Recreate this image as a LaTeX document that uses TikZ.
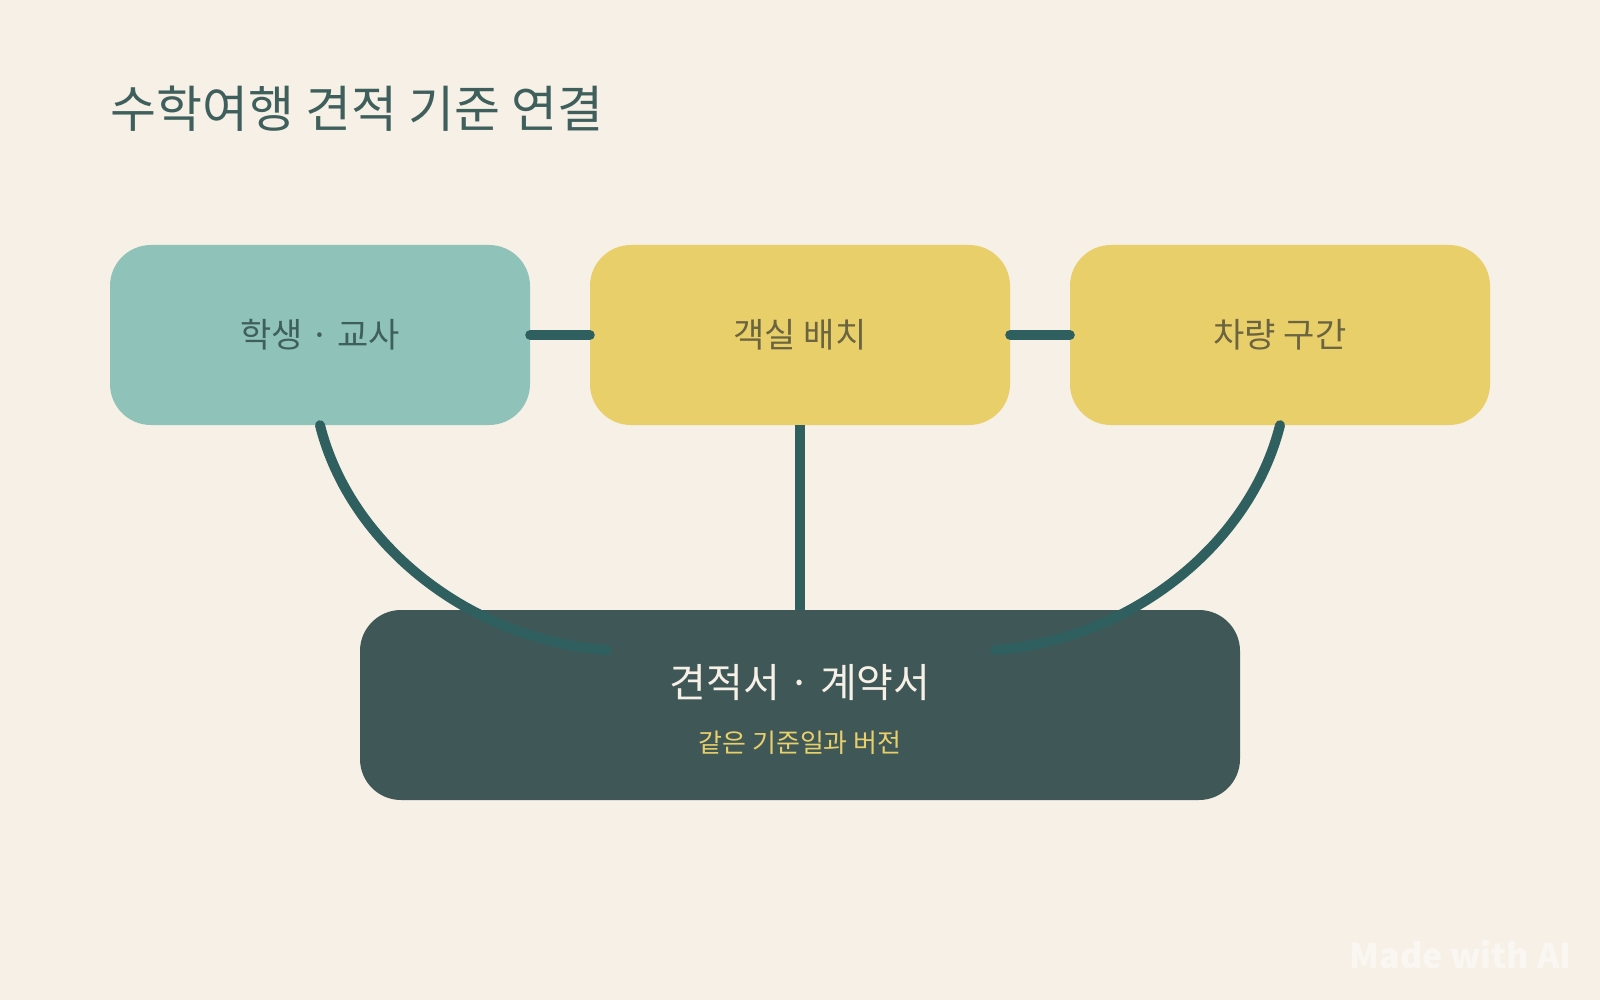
\documentclass[tikz,border=0pt]{standalone}
\usepackage{fontspec}
\setmainfont{Noto Sans CJK KR}
\usetikzlibrary{positioning}
\definecolor{bgcream}{HTML}{F6F0E6}
\definecolor{tealbox}{HTML}{8FC3BA}
\definecolor{yellowbox}{HTML}{E8CF6A}
\definecolor{darkbox}{HTML}{3F5857}
\definecolor{linkteal}{HTML}{2F5F5E}
\definecolor{textteal}{HTML}{3F5F5C}
\definecolor{textolive}{HTML}{6B6440}
\tikzset{
  topbox/.style={rounded corners=41pt, minimum width=420pt, minimum height=180pt, inner sep=0pt, font=\fontsize{34}{40}\selectfont},
  link/.style={draw=linkteal, line width=10pt, line cap=round}
}
\begin{document}
\begin{tikzpicture}[x=1pt,y=-1pt]
\fill[bgcream] (0,0) rectangle (1600,1000);
\useasboundingbox (0,0) rectangle (1600,1000);
% title
\node[anchor=base west, inner sep=0pt, text=textteal, font=\fontsize{50}{60}\selectfont] (title) at (110,128) {수학여행 견적 기준 연결};
% boxes
\node[topbox, fill=tealbox, text=textteal] (people) at (320,335) {학생 · 교사};
\node[topbox, fill=yellowbox, text=textolive] (rooms) at (800,335) {객실 배치};
\node[topbox, fill=yellowbox, text=textolive] (buses) at (1280,335) {차량 구간};
\node[rounded corners=41pt, minimum width=880pt, minimum height=190pt, fill=darkbox] (quote) at (800,705) {};
\node[text=bgcream, font=\fontsize{40}{48}\selectfont] (quotetitle) at (800,683) {견적서 · 계약서};
\node[text=yellowbox, font=\fontsize{26}{32}\selectfont] (quotesub) at (800,743) {같은 기준일과 버전};
% connectors
\coordinate (lend) at (607,650);
\coordinate (rend) at (995,650);
\draw[link] (people.east) -- (rooms.west);
\draw[link] (rooms.east) -- (buses.west);
\draw[link, line cap=butt] (rooms.south) -- (quote.north);
\draw[link] (people.south) .. controls (350,545) and (470,640) .. (lend);
\draw[link] (buses.south) .. controls (1250,545) and (1130,640) .. (rend);
% watermark
\node[anchor=base east, text=white, opacity=0.5, font=\bfseries\fontsize{34}{40}\selectfont] (mark) at (1575,968) {Made with AI};
\end{tikzpicture}
\end{document}
